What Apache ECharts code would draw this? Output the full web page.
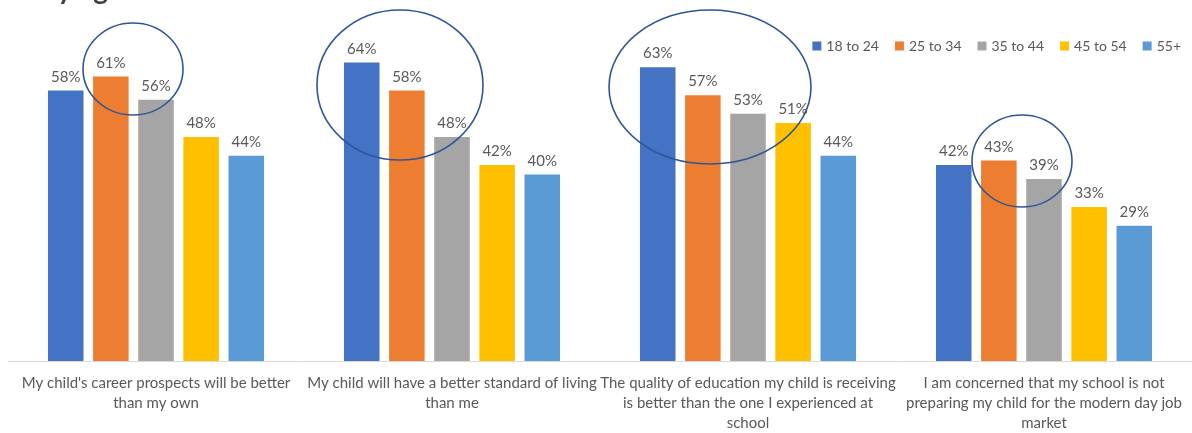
<!DOCTYPE html>
<html>
<head>
<meta charset="utf-8">
<script src="https://cdn.jsdelivr.net/npm/echarts@6/dist/echarts.min.js"></script>
<style>
html,body{margin:0;padding:0;background:#fff;}
#chart{width:1192px;height:433px;}
</style>
</head>
<body>
<div id="chart"></div>
<script>
const categories = [
  "My child's career prospects will be better\nthan my own",
  "My child will have a better standard of living\nthan me",
  "The quality of education my child is receiving\nis better than the one I experienced at\nschool",
  "I am concerned that my school is not\npreparing my child for the modern day job\nmarket"
];
const seriesNames = ["18 to 24", "25 to 34", "35 to 44", "45 to 54", "55+"];
const age18to24 = [58, 64, 63, 42];
const age25to34 = [61, 58, 57, 43];
const age35to44 = [56, 48, 53, 39];
const age45to54 = [48, 42, 51, 33];
const age55plus = [44, 40, 44, 29];
const colors = ["#4472C4", "#ED7D31", "#A5A5A5", "#FFC000", "#5B9BD5"];

const FONT = "Lato";
const values = [age18to24, age25to34, age35to44, age45to54, age55plus];

const chart = echarts.init(document.getElementById('chart'));
const ellipseStyle = { fill: 'none', stroke: '#2F5597', lineWidth: 1.6 };
chart.setOption({
  animation: false,
  color: colors,
  textStyle: { fontFamily: FONT },
  legend: {
    right: 6, top: 34,
    itemWidth: 9, itemHeight: 9, itemGap: 16,
    icon: 'rect',
    textStyle: { color: '#595959', fontSize: 14, fontFamily: FONT },
    data: seriesNames
  },
  grid: { left: 8, right: 0, top: 34.5, bottom: 66, containLabel: false },
  xAxis: {
    type: 'category',
    data: categories,
    axisTick: { show: false },
    axisLine: { lineStyle: { color: '#D9D9D9', width: 1 } },
    axisLabel: { color: '#595959', fontSize: 15, fontFamily: FONT, lineHeight: 20, margin: 12, interval: 0 }
  },
  yAxis: {
    type: 'value', min: 0, max: 70, show: false, splitLine: { show: false }
  },
  series: seriesNames.map((n, i) => ({
    name: n,
    type: 'bar',
    data: values[i],
    barGap: '27%',
    barCategoryGap: '27%',
    label: { show: true, position: 'top', formatter: '{c}%', color: '#595959', fontSize: 15, fontFamily: FONT, distance: 6 }
  })),
  graphic: [
    { type: 'text', left: 42, top: -24, style: { text: 'by age', font: 'bold 28px ' + FONT, fill: '#404040' } },
    { type: 'ellipse', shape: { cx: 133, cy: 69, rx: 50, ry: 46 }, style: ellipseStyle, z: 100 },
    { type: 'ellipse', shape: { cx: 400, cy: 85, rx: 83, ry: 75 }, style: ellipseStyle, z: 100 },
    { type: 'ellipse', shape: { cx: 710, cy: 87, rx: 101, ry: 77 }, style: ellipseStyle, z: 100 },
    { type: 'ellipse', shape: { cx: 1022, cy: 161, rx: 50, ry: 46 }, style: ellipseStyle, z: 100 }
  ]
});
</script>
</body>
</html>
